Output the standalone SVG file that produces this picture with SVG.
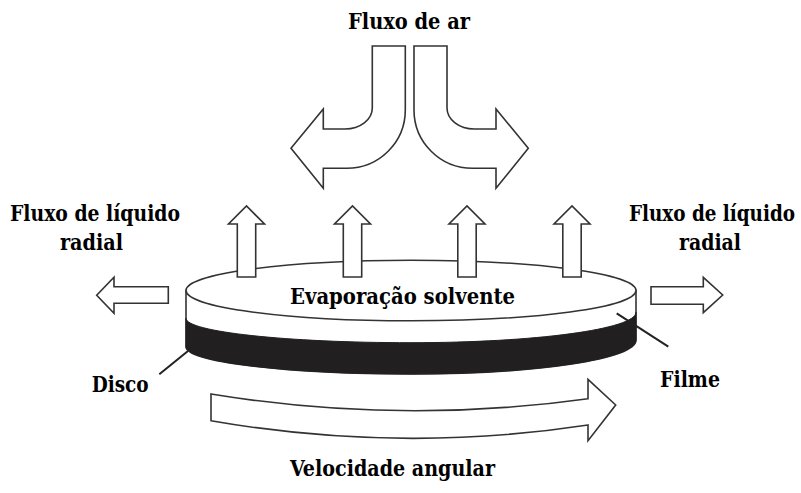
<svg xmlns="http://www.w3.org/2000/svg" width="801" height="493" viewBox="0 0 801 493">
<style>
.lbl{font-family:'DejaVu Serif','Liberation Serif',serif;font-stretch:condensed;font-weight:700;font-size:22.5px;fill:#000}
.out{fill:#fff;stroke:#333;stroke-width:1.6;stroke-linejoin:miter}
.ln{stroke:#222;stroke-width:2;fill:none}
</style>
<defs>
<path id="up" d="M-9.2,277 L-9.2,224 L-18,224 L0,206 L18,224 L9.2,224 L9.2,277 Z"/>
<path id="bend" d="M372.3,46 L405.3,46 L405.3,110 C405.3,142.2 379.1,168.3 346.7,168.3 L323.3,168.3 L323.3,188.3 L291,148.3 L323.3,109 L323.3,129 L345,129 C360.1,129 372.3,119.6 372.3,108 Z"/>
</defs>
<rect width="801" height="493" fill="#fff"/>

<g id="disco">
<path class="out" d="M186,290.5 L186,346.7 C186,361.8 286.7,374 411,374 C535.3,374 636,359.1 636,340 L636,290.5 Z"/>
<path d="M186,318.3 C186,331.8 286.7,342.7 411,342.7 C535.3,342.7 636,329.1 636,312.3 L636,340 C636,359.1 535.3,374 411,374 C286.7,374 186,361.8 186,346.7 Z" fill="#221f20" stroke="#221f20" stroke-width="1"/>
<ellipse class="out" cx="411" cy="290.5" rx="225" ry="30.3"/>
</g>

<g id="connectors">
<g id="fluxo-ar-arrows">
<use href="#bend" class="out"/>
<use href="#bend" class="out" transform="translate(819.3,0) scale(-1,1)"/>
</g>
<g id="evap-arrows">
<use href="#up" class="out" x="246.5"/>
<use href="#up" class="out" x="352.5"/>
<use href="#up" class="out" x="467"/>
<use href="#up" class="out" x="572"/>
</g>
<g id="radial-arrows">
<path class="out" d="M168.3,286.7 L114,286.7 L114,277.3 L96.7,295.3 L114,313.3 L114,303.3 L168.3,303.3 Z"/>
<path class="out" d="M651,286.7 L703.3,286.7 L703.3,277.3 L722.7,295 L703.3,312.7 L703.3,304.3 L651,304.3 Z"/>
</g>
<g id="rotation-arrow">
<path class="out" d="M211,394 Q400,425 588,398.7 L588,379.3 L615.7,405 L588,440.7 L588,425 Q400,453.7 211,420.7 Z"/>
</g>
<g id="leaders">
<line class="ln" x1="159.3" y1="374.3" x2="188" y2="351"/>
<line class="ln" x1="616.7" y1="313.3" x2="668.3" y2="346.7"/>
</g>
</g>

<g id="labels">
<text class="lbl" x="348" y="29" textLength="122" lengthAdjust="spacingAndGlyphs">Fluxo de ar</text>
<text class="lbl" x="10" y="220.5" textLength="170" lengthAdjust="spacingAndGlyphs">Fluxo de líquido</text>
<text class="lbl" x="60" y="250" textLength="63" lengthAdjust="spacingAndGlyphs">radial</text>
<text class="lbl" x="795" y="220.5" text-anchor="end" textLength="166" lengthAdjust="spacingAndGlyphs">Fluxo de líquido</text>
<text class="lbl" x="679" y="249.5" textLength="62" lengthAdjust="spacingAndGlyphs">radial</text>
<text class="lbl" x="290" y="304" textLength="225" lengthAdjust="spacingAndGlyphs">Evaporação solvente</text>
<text class="lbl" x="91.7" y="391.7" textLength="57" lengthAdjust="spacingAndGlyphs">Disco</text>
<text class="lbl" x="660" y="386.7" textLength="60" lengthAdjust="spacingAndGlyphs">Filme</text>
<text class="lbl" x="290" y="476" textLength="205" lengthAdjust="spacingAndGlyphs">Velocidade angular</text>
</g>
</svg>
